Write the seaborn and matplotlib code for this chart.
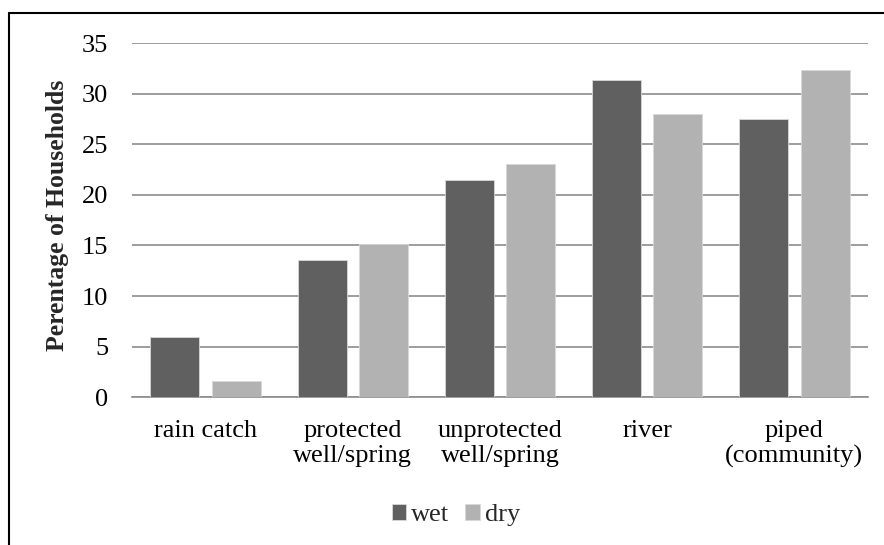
import matplotlib
matplotlib.use("Agg")
import matplotlib.pyplot as plt
from matplotlib.lines import Line2D
import seaborn as sns
import pandas as pd

# Water source categories and share of households by season
categories = ["rain catch", "protected\nwell/spring", "unprotected\nwell/spring",
              "river", "piped\n(community)"]
wet = [6.0, 13.6, 21.5, 31.3, 27.5]
dry = [1.6, 15.1, 23.0, 28.0, 32.3]
seasons = ["wet", "dry"]
yticks = [0, 5, 10, 15, 20, 25, 30, 35]

df = pd.DataFrame({
    "source": categories * 2,
    "season": ["wet"] * len(categories) + ["dry"] * len(categories),
    "pct": wet + dry,
})

sns.set_style("white")
plt.rcParams["font.family"] = ["Liberation Serif", "DejaVu Serif"]

fig = plt.figure(figsize=(8.84, 5.45), dpi=100)
ax = fig.add_axes([132 / 884, 1 - 397.3 / 545, 736 / 884, 354.3 / 545])

sns.barplot(data=df, x="source", y="pct", hue="season", order=categories,
            hue_order=seasons, palette=["#606060", "#b2b2b2"],
            width=0.833, gap=0.2, edgecolor="#d8d8d8", linewidth=0.6,
            ax=ax, legend=True, zorder=3)

ax.set_ylim(0, 35)
ax.set_yticks(yticks)
ax.set_xlim(-0.5, len(categories) - 0.5)
ax.yaxis.grid(True, color="#8c8c8c", linewidth=1.2, zorder=0)
ax.set_axisbelow(True)
for side in ["top", "right", "left"]:
    ax.spines[side].set_visible(False)
ax.spines["bottom"].set_color("#8c8c8c")
ax.spines["bottom"].set_linewidth(1.2)
ax.tick_params(axis="both", length=0, labelsize=19, colors="black")
ax.tick_params(axis="y", pad=17)
ax.tick_params(axis="x", pad=16)
for lbl in ax.get_xticklabels():
    lbl.set_linespacing(1.2)
ax.set_xlabel("")
ax.set_ylabel("Perentage of Households", fontsize=18.5, fontweight="bold")
ax.yaxis.set_label_coords(-0.0856, 0.5145)

handles, labels = ax.get_legend_handles_labels()
ax.get_legend().remove()
fig.legend(handles, labels, loc="center", bbox_to_anchor=(456 / 884, 1 - 515 / 545),
           ncol=2, frameon=False, fontsize=19, handlelength=0.55, handleheight=0.55,
           handletextpad=0.2, columnspacing=0.6)

# Chart frame (left and top edges)
x0 = 9 / 884
y1 = 1 - 13 / 545
fig.add_artist(Line2D([x0, x0], [0, y1], transform=fig.transFigure, color="black", lw=1.5))
fig.add_artist(Line2D([x0, 1], [y1, y1], transform=fig.transFigure, color="black", lw=1.5))

fig.savefig("out.png", dpi=100)
